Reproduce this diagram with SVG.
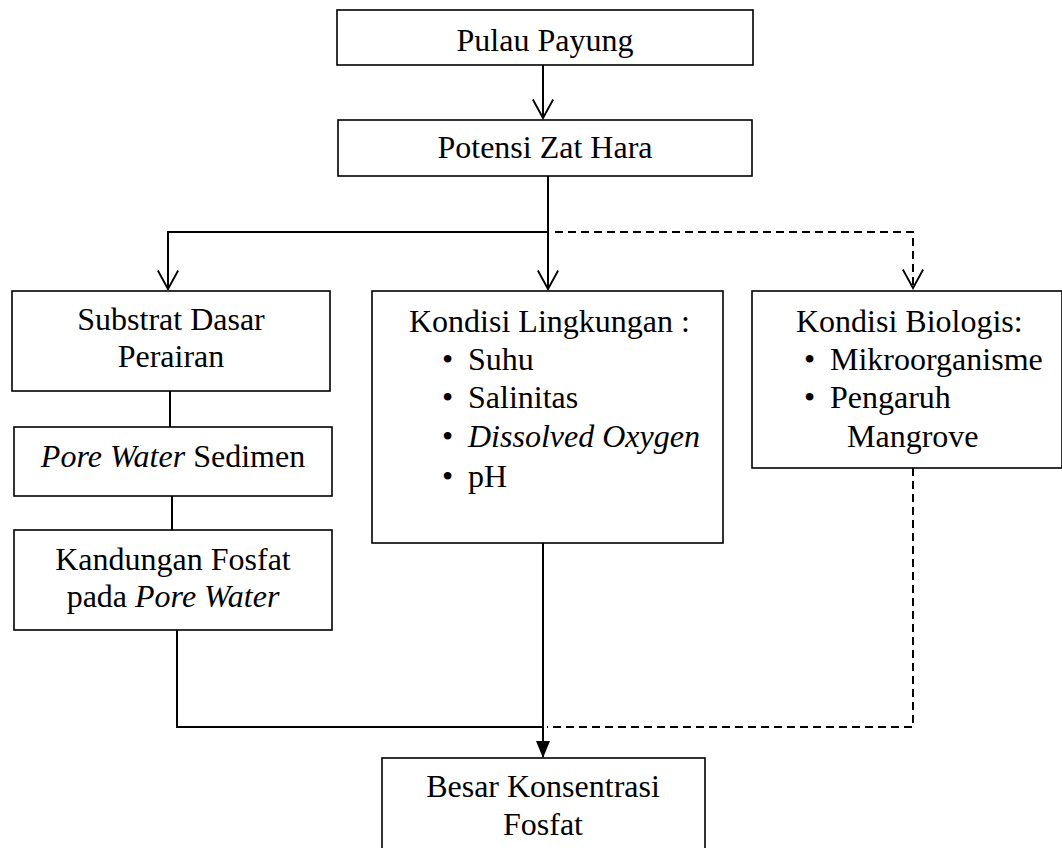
<svg xmlns="http://www.w3.org/2000/svg" width="1062" height="848" viewBox="0 0 1062 848">
<style>
.box{fill:#fff;stroke:#000;stroke-width:1.6}
.t{font-family:"Liberation Serif","Times New Roman",serif;font-size:32px;fill:#000}
.c{text-anchor:middle}
.i{font-style:italic}
.ln{fill:none;stroke:#000;stroke-width:2}
.ds{fill:none;stroke:#000;stroke-width:2;stroke-dasharray:8 5}
</style>
<defs>
<marker id="vee" markerUnits="userSpaceOnUse" markerWidth="24" markerHeight="24" viewBox="-2 -2 24 26" refX="20" refY="11" orient="auto">
<path d="M0,0 L20,11 L0,22" fill="none" stroke="#000" stroke-width="2"/>
</marker>
<marker id="tri" markerUnits="userSpaceOnUse" markerWidth="17" markerHeight="15" viewBox="0 0 17 15" refX="16" refY="7" orient="auto">
<path d="M0,0 L17,7 L0,14 Z" fill="#000"/>
</marker>
</defs>
<g id="connectors">
<path class="ln" d="M543,65 L543,118" marker-end="url(#vee)"/>
<path class="ln" d="M548,176 L548,289" marker-end="url(#vee)"/>
<path class="ln" d="M548,232 L168,232 L168,289" marker-end="url(#vee)"/>
<path class="ds" d="M555,232 L913,232 L913,288" marker-end="url(#vee)"/>
<path class="ln" d="M170,391 L170,427"/>
<path class="ln" d="M172,496 L172,530"/>
<path class="ln" d="M177,630 L177,727 L543,727"/>
<path class="ds" d="M913,468 L913,727 L547,727"/>
<path class="ln" d="M543,543 L543,757" marker-end="url(#tri)"/>
</g>
<g id="pulau">
<rect class="box" x="337" y="10" width="416" height="55"/>
<text class="t c" x="545" y="51">Pulau Payung</text>
</g>
<g id="potensi">
<rect class="box" x="338" y="120" width="414" height="56"/>
<text class="t c" x="545" y="158">Potensi Zat Hara</text>
</g>
<g id="substrat">
<rect class="box" x="12" y="291" width="318" height="100"/>
<text class="t c" x="171" y="330">Substrat Dasar</text>
<text class="t c" x="171" y="367">Perairan</text>
</g>
<g id="porewater">
<rect class="box" x="14" y="427" width="318" height="69"/>
<text class="t c" x="173" y="467"><tspan class="i">Pore Water</tspan> Sedimen</text>
</g>
<g id="kandungan">
<rect class="box" x="14" y="530" width="318" height="100"/>
<text class="t c" x="173" y="570">Kandungan Fosfat</text>
<text class="t c" x="173" y="607">pada <tspan class="i">Pore Water</tspan></text>
</g>
<g id="lingkungan">
<rect class="box" x="372" y="291" width="351" height="252"/>
<text class="t" x="409" y="332">Kondisi Lingkungan :</text>
<text class="t" x="442" y="370">•</text><text class="t" x="468" y="370">Suhu</text>
<text class="t" x="442" y="408">•</text><text class="t" x="468" y="408">Salinitas</text>
<text class="t" x="442" y="447">•</text><text class="t i" x="468" y="447">Dissolved Oxygen</text>
<text class="t" x="442" y="487">•</text><text class="t" x="468" y="487">pH</text>
</g>
<g id="biologis">
<rect class="box" x="752" y="291" width="310" height="177"/>
<text class="t" x="796" y="332">Kondisi Biologis:</text>
<text class="t" x="804" y="370">•</text><text class="t" x="830" y="370">Mikroorganisme</text>
<text class="t" x="804" y="408">•</text><text class="t" x="830" y="408">Pengaruh</text>
<text class="t" x="847" y="447">Mangrove</text>
</g>
<g id="besar">
<rect class="box" x="382" y="758" width="323" height="100"/>
<text class="t c" x="543" y="797">Besar Konsentrasi</text>
<text class="t c" x="543" y="835">Fosfat</text>
</g>
</svg>
